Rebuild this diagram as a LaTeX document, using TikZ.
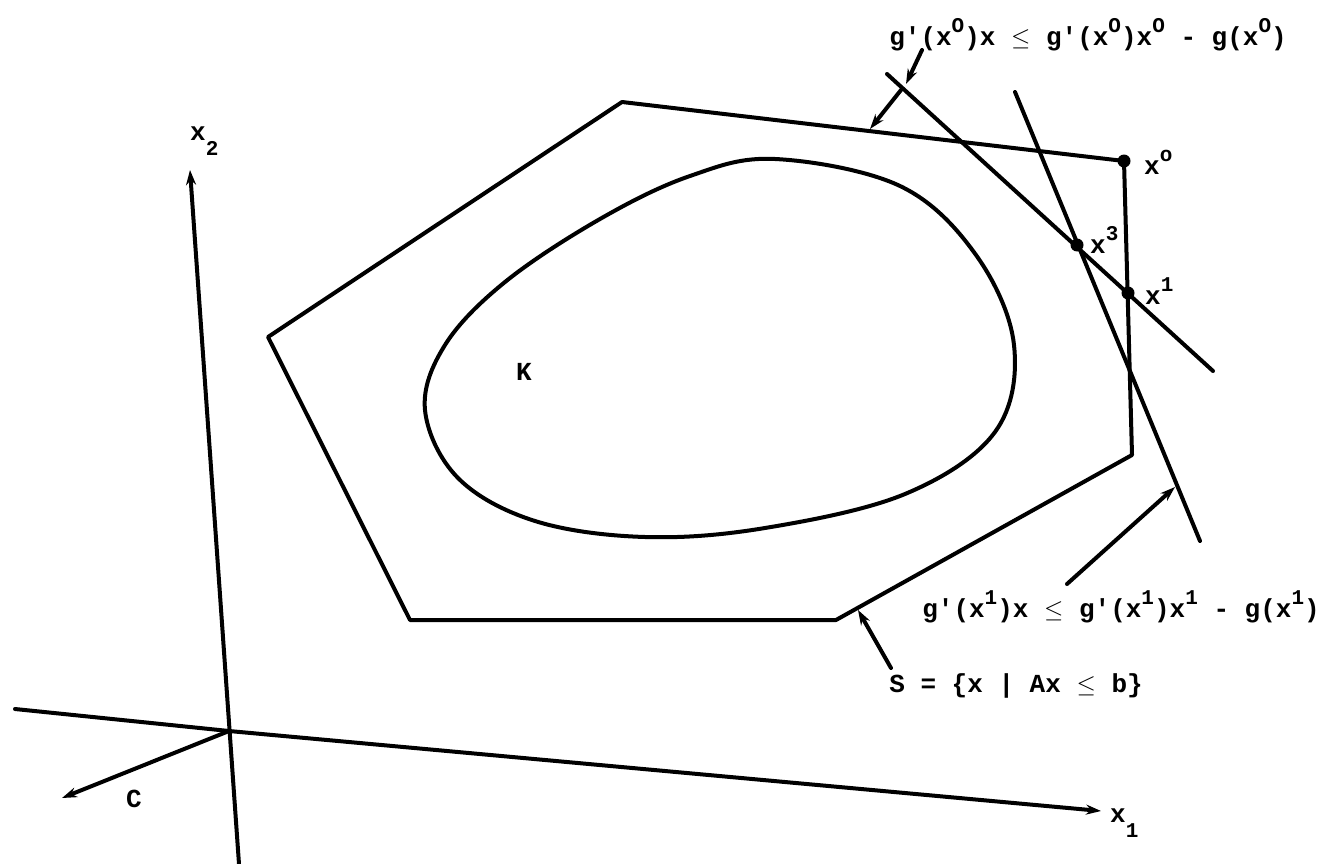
\documentclass[tikz,border=0pt]{standalone}
\usepackage{fontspec}
\setmonofont{Liberation Mono}
\usetikzlibrary{arrows.meta}
\newcommand\supr[1]{\raisebox{0.5em}{\fontsize{21}{21}\selectfont #1}}
\newcommand\subr[1]{\raisebox{-0.6em}{\fontsize{21}{21}\selectfont #1}}
\begin{document}
\begin{tikzpicture}[x=1pt,y=-1pt,
  lbl/.style={font=\ttfamily\bfseries\fontsize{26}{26}\selectfont, inner sep=0pt},
  stroke/.style={line width=4pt, line cap=round, line join=round},
  arr/.style={stroke, -{Stealth[length=15pt,width=10pt]}},
  dotnode/.style={circle, fill, inner sep=0pt, minimum size=13pt}]
\useasboundingbox (0,0) rectangle (1335,864);
% hexagon S
\coordinate (h1) at (622,102);
\coordinate (h2) at (1124,161);
\coordinate (h3) at (1132,455);
\coordinate (h4) at (836,620);
\coordinate (h5) at (410,620);
\coordinate (h6) at (268,337);
\draw[stroke] (h1) -- (h2) -- (h3) -- (h4) -- (h5) -- (h6) -- cycle;
% convex set K
\draw[stroke] plot[smooth cycle, tension=0.6] coordinates {
  (775,159) (900,186) (976,255) (1014,345) (995,432) (905,494)
  (765,528) (645,537) (535,521) (458,478) (425,410) (445,345)
  (505,282) (600,219) (690,176)};
\node[lbl] (K) at (524,372) {K};
% points
\node[dotnode] (x0) at (1124,161) {};
\node[dotnode] (x3) at (1077,245) {};
\node[dotnode] (x1) at (1128,293) {};
\node[lbl, anchor=base west] (lx0) at (1144,174) {x\supr{o}};
\node[lbl, anchor=base west] (lx3) at (1090,253) {x\supr{3}};
\node[lbl, anchor=base west] (lx1) at (1145,304) {x\supr{1}};
% cutting planes
\coordinate (a1) at (887,74);
\coordinate (a2) at (1213,371);
\draw[stroke] (a1) -- (a2);
\coordinate (b1) at (1015,92);
\coordinate (b2) at (1200,541);
\draw[stroke] (b1) -- (b2);
% labels of the cuts
\node[lbl, anchor=base] (L0) at (1088,46)
  {g'(x\supr{O})x $\leq$ g'(x\supr{O})x\supr{O} - g(x\supr{O})};
\coordinate (p0) at (922,50);
\coordinate (q0) at (906,84);
\draw[arr] (p0) -- (q0);
\coordinate (p1) at (901,90);
\coordinate (q1) at (870,129);
\draw[arr] (p1) -- (q1);
\node[lbl, anchor=base] (L1) at (1121,617)
  {g'(x\supr{1})x $\leq$ g'(x\supr{1})x\supr{1} - g(x\supr{1})};
\coordinate (p2) at (1067,584);
\coordinate (q2) at (1175,487);
\draw[arr] (p2) -- (q2);
\node[lbl, anchor=base] (LS) at (1016,692) {S = \{x | Ax $\leq$ b\}};
\coordinate (p3) at (891,668);
\coordinate (q3) at (858,610);
\draw[arr] (p3) -- (q3);
% axes
\coordinate (o) at (229,731);
\coordinate (x1s) at (15,709);
\coordinate (x1e) at (1101,811);
\coordinate (x2s) at (239,864);
\coordinate (x2e) at (190,170);
\coordinate (ce) at (62,798);
\draw[stroke] (x1s) -- (o);
\draw[arr] (o) -- (x1e);
\draw[arr] (x2s) -- (x2e);
\draw[arr] (o) -- (ce);
\node[lbl, anchor=base west] (lx1ax) at (1110,822) {x\subr{1}};
\node[lbl, anchor=base west] (lx2ax) at (190,140) {x\subr{2}};
\node[lbl, anchor=base west] (lc) at (126,807) {C};
\end{tikzpicture}
\end{document}
